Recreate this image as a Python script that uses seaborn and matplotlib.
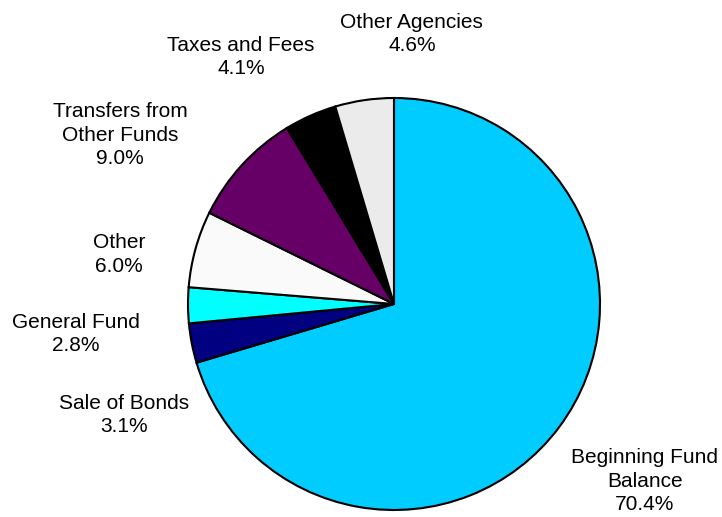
import matplotlib
matplotlib.use("Agg")
import matplotlib.pyplot as plt
import seaborn as sns

sns.set_style("white")
plt.rcParams["font.family"] = ["Liberation Sans", "DejaVu Sans"]

# data (clockwise from 12 o'clock)
sources = ["Beginning Fund\nBalance", "Sale of Bonds", "General Fund", "Other",
           "Transfers from\nOther Funds", "Taxes and Fees", "Other Agencies"]
shares = [70.4, 3.1, 2.8, 6.0, 9.0, 4.1, 4.6]
colors = ["#00ccff", "#000080", "#00ffff", "#fafafa", "#660066", "#000000", "#ebebeb"]

# label spots, in pie radii from centre
label_pos = [(1.218, -0.86), (-1.31, -0.54), (-1.544, -0.146), (-1.335, 0.24),
             (-1.33, 0.82), (-0.743, 1.2), (0.087, 1.31)]

fig = plt.figure(figsize=(7.22, 5.17), dpi=100)
ax = fig.add_axes([0, 0, 1, 1])

wedges, _ = ax.pie(shares, colors=colors, startangle=90, counterclock=False,
                   wedgeprops=dict(edgecolor="black", linewidth=1.5))

for name, val, (x, y) in zip(sources, shares, label_pos):
    ax.text(x, y, f"{name}\n{val:.1f}%", ha="center", va="center",
            fontsize=15, linespacing=1.3, color="black")

cx, cy, r = 394, 304, 206
ax.set_xlim(-cx / r, (722 - cx) / r)
ax.set_ylim(-(517 - cy) / r, cy / r)
ax.set_aspect("equal")
ax.axis("off")

fig.savefig("out.png", dpi=100)
plt.close()
